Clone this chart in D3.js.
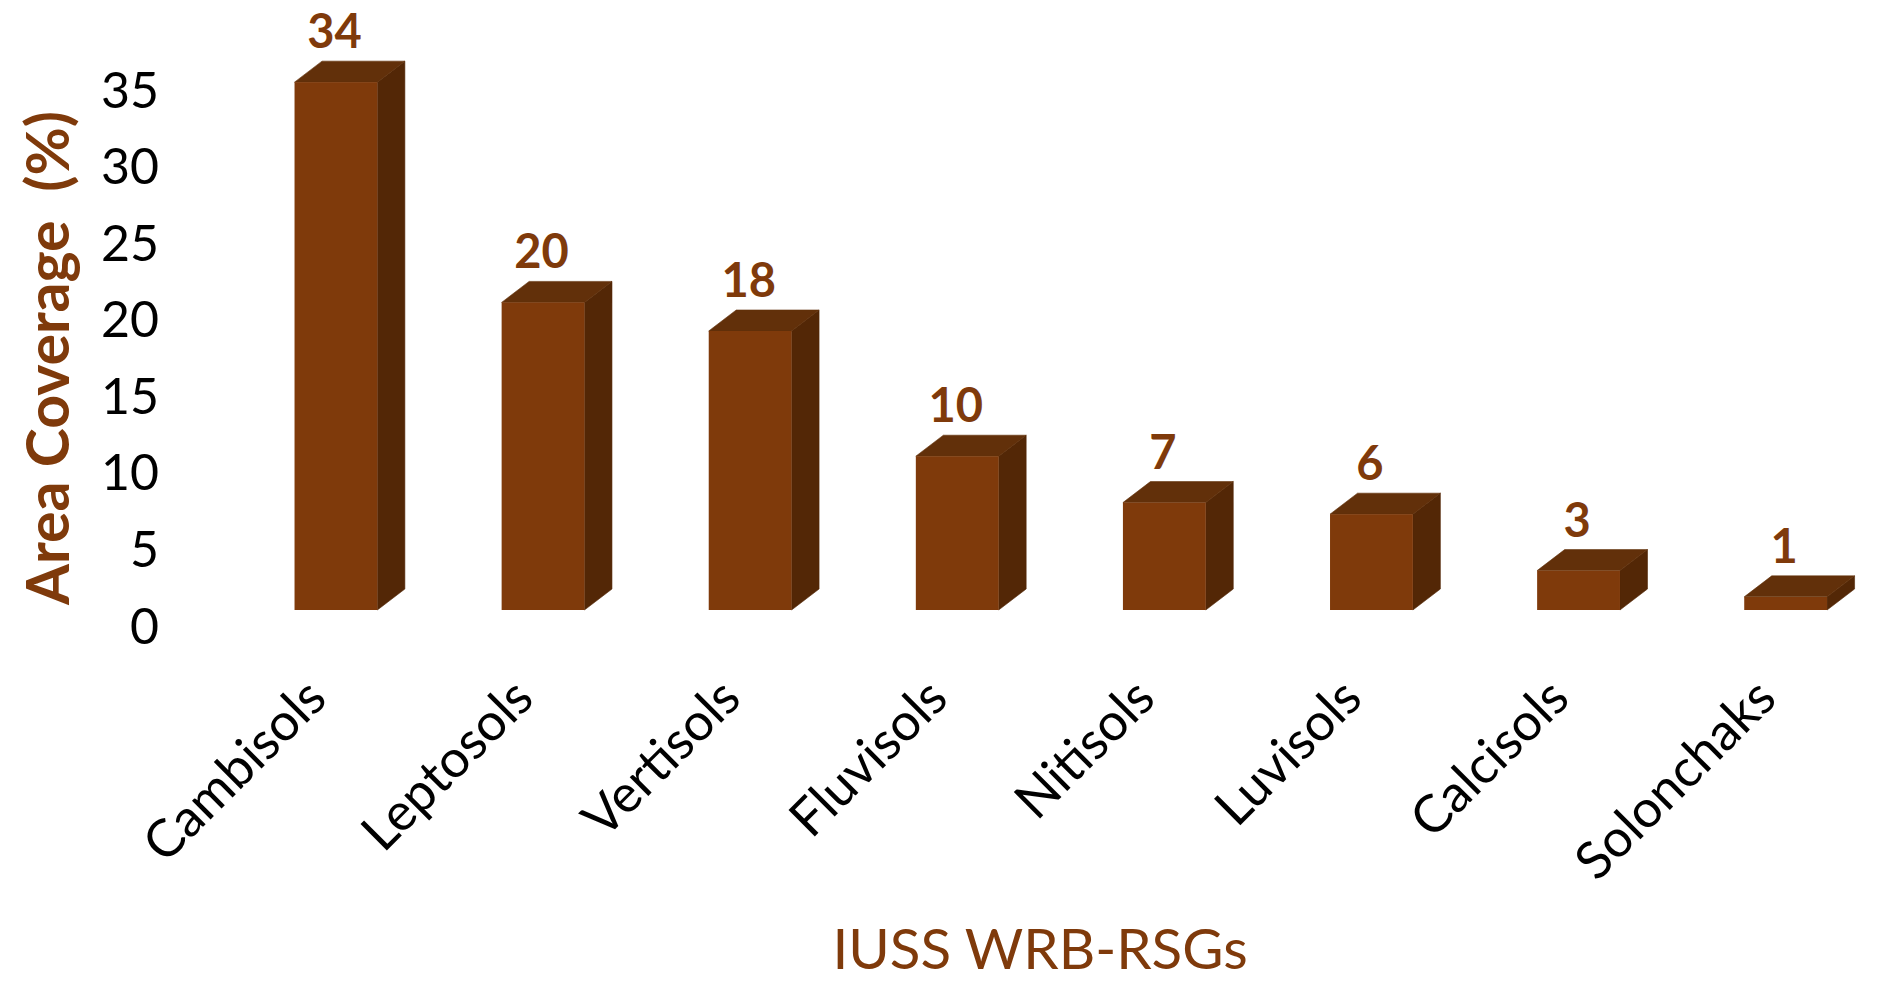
<!DOCTYPE html>
<html><head><meta charset="utf-8">
<script src="https://cdn.jsdelivr.net/npm/d3@7"></script>
<style>html,body{margin:0;padding:0;background:#fff;overflow:hidden}svg{display:block}text{font-family:Lato,"Open Sans",sans-serif}</style>
</head><body><svg id="c" width="1877" height="987"></svg>
<script>
const categories=["Cambisols","Leptosols","Vertisols","Fluvisols","Nitisols","Luvisols","Calcisols","Solonchaks"];
const coverage=[34.15,19.9,18.05,9.95,6.95,6.2,2.55,0.85];
const dataLabels=["34","20","18","10","7","6","3","1"];
const yTicks=[0,5,10,15,20,25,30,35];
const xTitle="IUSS WRB-RSGs";
const yTitle="Area Coverage  (%)";

const svg=d3.select("#c");
const depthX=27.5,depthY=21;
const brown="#7F3A0B",topC="#62300A",side="#532706";

const x=d3.scaleBand().domain(categories).range([232.4,232.4+8*207.1]).paddingInner(0.6).paddingOuter(0.3);
const y=d3.scaleLinear().domain([0,35]).range([610,69]);
const yAxisScale=d3.scaleLinear().domain([0,35]).range([627,91]);

const bars=svg.append("g").selectAll("g").data(categories.map((c,i)=>({c,v:coverage[i],l:dataLabels[i]}))).join("g");
const bw=x.bandwidth();
bars.append("polygon").attr("fill",side).attr("stroke",side).attr("stroke-width",0.6).attr("points",d=>{const X=x(d.c)+bw,T=y(d.v),B=y(0);return [[X,T],[X+depthX,T-depthY],[X+depthX,B-depthY],[X,B]].join(" ")});
bars.append("polygon").attr("fill",topC).attr("stroke",topC).attr("stroke-width",0.6).attr("points",d=>{const X=x(d.c),T=y(d.v);return [[X,T],[X+depthX,T-depthY],[X+bw+depthX,T-depthY],[X+bw,T]].join(" ")});
bars.append("rect").attr("fill",brown).attr("x",d=>x(d.c)).attr("y",d=>y(d.v)).attr("width",bw).attr("height",d=>y(0)-y(d.v));
bars.append("text").attr("x",d=>x(d.c)+bw/2-1.5).attr("y",d=>y(d.v)-depthY-13).attr("text-anchor","middle")
  .attr("font-size",47).attr("font-weight",700).attr("fill",brown).text(d=>d.l);

const ya=svg.append("g").attr("transform","translate(159,0)").call(d3.axisLeft(yAxisScale).tickValues(yTicks).tickSize(0).tickPadding(0));
ya.select(".domain").remove();
ya.selectAll("text").attr("font-size",50).attr("fill","#000").attr("style","font-family:Lato");

const xa=svg.append("g").attr("transform","translate(0,609)").call(d3.axisBottom(x).tickSize(0).tickPadding(0));
xa.select(".domain").remove();
xa.selectAll("text").attr("font-size",52).attr("fill","#000").attr("style","font-family:Lato")
  .attr("text-anchor","end").attr("dy",0).attr("transform","translate(-7,92) rotate(-45)");

svg.append("text").attr("x",1040).attr("y",969).attr("text-anchor","middle").attr("font-size",56.5).attr("fill",brown).text(xTitle);
svg.append("text").attr("transform","translate(69,358) rotate(-90)").attr("text-anchor","middle").attr("font-size",59).attr("font-weight",700).attr("fill",brown).style("white-space","pre").text(yTitle);
</script></body></html>
